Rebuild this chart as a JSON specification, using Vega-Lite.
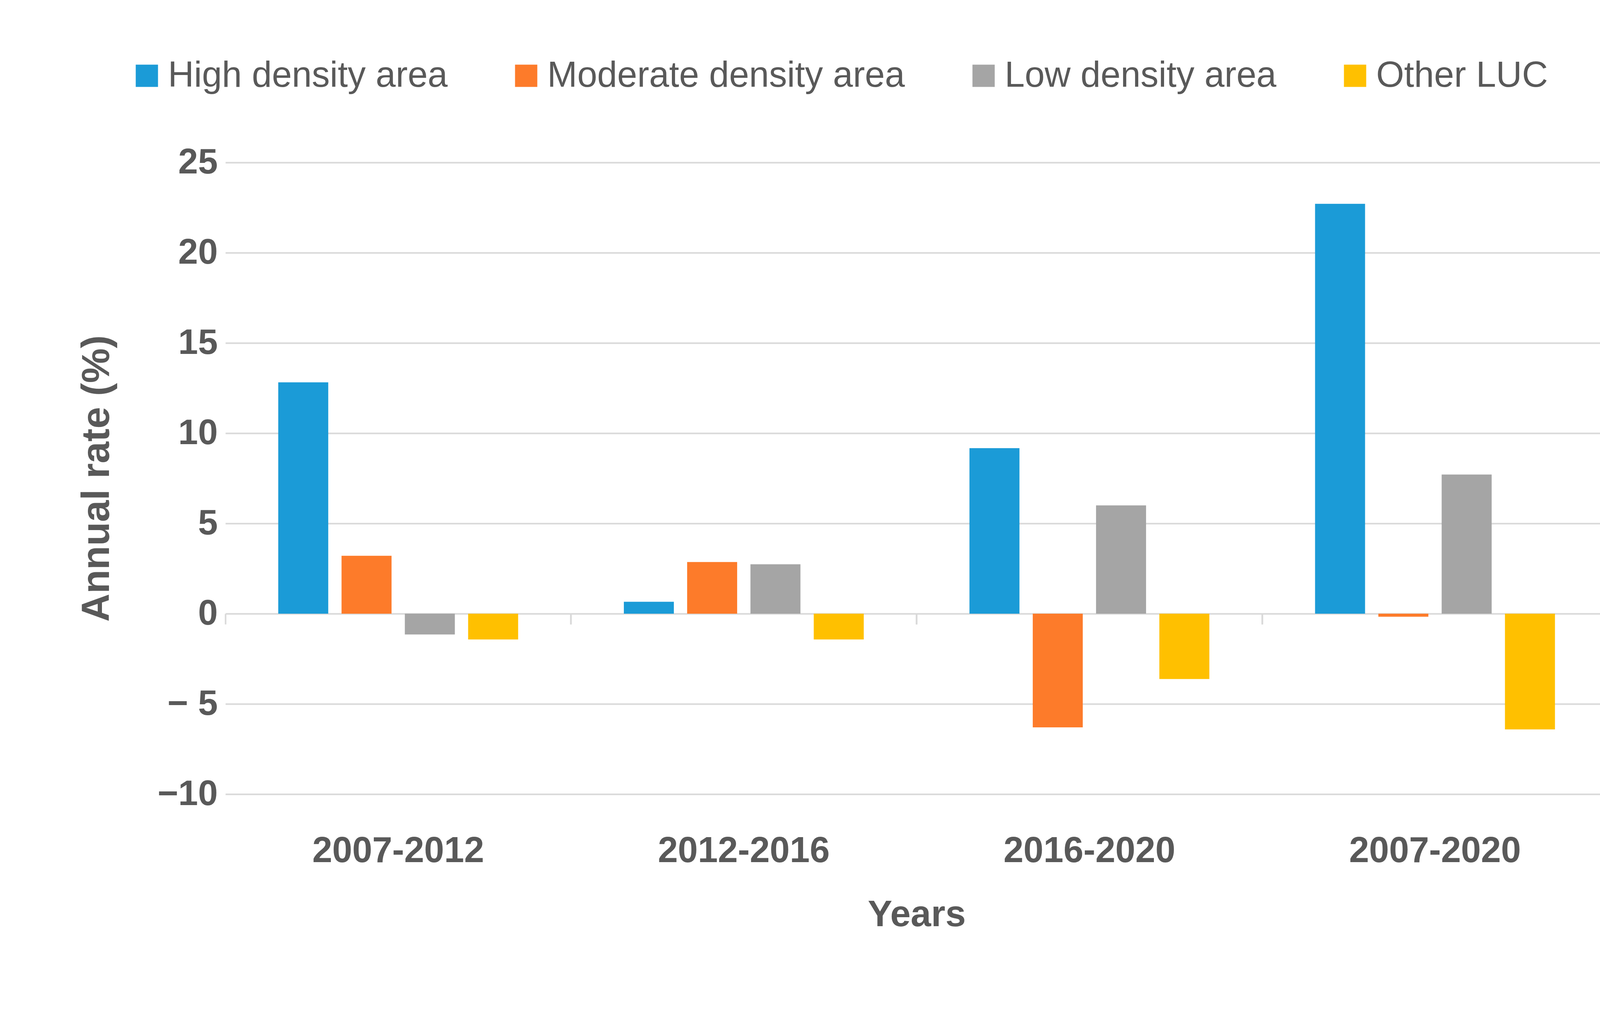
{
  "$schema": "https://vega.github.io/schema/vega-lite/v6.json",
  "autosize": "none",
  "width": 3539,
  "height": 1617,
  "padding": {"left": 577, "top": 416, "right": 152, "bottom": 550},
  "background": "white",
  "config": {
    "font": "Liberation Sans",
    "view": {"stroke": null}
  },
  "data": {
    "values": [
      {"period": "2007-2012", "series": "High density area", "rate": 12.82},
      {"period": "2007-2012", "series": "Moderate density area", "rate": 3.21},
      {"period": "2007-2012", "series": "Low density area", "rate": -1.15},
      {"period": "2007-2012", "series": "Other LUC", "rate": -1.43},
      {"period": "2012-2016", "series": "High density area", "rate": 0.66},
      {"period": "2012-2016", "series": "Moderate density area", "rate": 2.86},
      {"period": "2012-2016", "series": "Low density area", "rate": 2.74},
      {"period": "2012-2016", "series": "Other LUC", "rate": -1.43},
      {"period": "2016-2020", "series": "High density area", "rate": 9.17},
      {"period": "2016-2020", "series": "Moderate density area", "rate": -6.3},
      {"period": "2016-2020", "series": "Low density area", "rate": 6.0},
      {"period": "2016-2020", "series": "Other LUC", "rate": -3.62},
      {"period": "2007-2020", "series": "High density area", "rate": 22.71},
      {"period": "2007-2020", "series": "Moderate density area", "rate": -0.17},
      {"period": "2007-2020", "series": "Low density area", "rate": 7.71},
      {"period": "2007-2020", "series": "Other LUC", "rate": -6.41}
    ]
  },
  "resolve": {"axis": {"x": "independent"}},
  "layer": [
    {
      "mark": {"type": "bar"},
      "encoding": {
        "x": {
          "field": "period",
          "type": "nominal",
          "sort": ["2007-2012", "2012-2016", "2016-2020", "2007-2020"],
          "scale": {"paddingInner": 0, "paddingOuter": 0},
          "axis": {
            "orient": "bottom",
            "title": "Years",
            "labelAngle": 0,
            "domain": false,
            "ticks": false,
            "labelLimit": 2000,
            "labelFont": "Liberation Sans",
            "labelFontSize": 92,
            "labelFontWeight": "bold",
            "labelColor": "#595959",
            "labelPadding": 100,
            "titleFont": "Liberation Sans",
            "titleFontSize": 94,
            "titleFontWeight": "bold",
            "titleColor": "#595959",
            "titlePadding": 72
          }
        },
        "xOffset": {
          "field": "series",
          "type": "nominal",
          "sort": ["High density area", "Moderate density area", "Low density area", "Other LUC"],
          "scale": {"paddingInner": 0.21, "paddingOuter": 0.835}
        },
        "y": {
          "field": "rate",
          "type": "quantitative",
          "scale": {"domain": [-10, 25], "nice": false, "zero": false},
          "axis": {
            "title": "Annual rate (%)",
            "values": [-10, -5, 0, 5, 10, 15, 20, 25],
            "labelExpr": "datum.value == -5 ? '\u2212 5' : datum.value == -10 ? '\u221210' : datum.label",
            "domain": false,
            "ticks": false,
            "grid": true,
            "gridColor": "#d9d9d9",
            "gridWidth": 4,
            "labelFont": "Liberation Sans",
            "labelFontSize": 91,
            "labelFontWeight": "bold",
            "labelColor": "#595959",
            "labelPadding": 20,
            "titleFont": "Liberation Sans",
            "titleFontSize": 100,
            "titleFontWeight": "bold",
            "titleColor": "#595959",
            "titlePadding": 103
          }
        },
        "color": {
          "field": "series",
          "type": "nominal",
          "sort": ["High density area", "Moderate density area", "Low density area", "Other LUC"],
          "scale": {
            "domain": ["High density area", "Moderate density area", "Low density area", "Other LUC"],
            "range": ["#1b9bd7", "#fd7b2a", "#a5a5a5", "#ffc000"]
          },
          "legend": {
            "title": null,
            "orient": "none",
            "direction": "horizontal",
            "legendX": -247,
            "legendY": -268,
            "symbolType": "square",
            "symbolSize": 3250,
            "symbolStrokeWidth": 0,
            "labelFont": "Liberation Sans",
            "labelFontSize": 92,
            "labelColor": "#595959",
            "labelOffset": 8,
            "columnPadding": 155,
            "labelLimit": 2000
          }
        }
      }
    },
    {
      "mark": {"type": "point", "opacity": 0},
      "encoding": {
        "x": {
          "field": "period",
          "type": "nominal",
          "sort": ["2007-2012", "2012-2016", "2016-2020", "2007-2020"],
          "axis": {
            "orient": "bottom",
            "offset": -462,
            "title": null,
            "labels": false,
            "domain": false,
            "ticks": true,
            "bandPosition": 1,
            "tickColor": "#d9d9d9",
            "tickWidth": 4,
            "tickSize": 27
          }
        },
        "y": {"datum": 0, "type": "quantitative"}
      }
    },
    {
      "mark": {"type": "point", "opacity": 0},
      "encoding": {
        "x": {
          "field": "period",
          "type": "nominal",
          "sort": ["2007-2012", "2012-2016", "2016-2020", "2007-2020"],
          "axis": {
            "orient": "bottom",
            "offset": -462,
            "title": null,
            "labels": false,
            "domain": false,
            "ticks": true,
            "bandPosition": 0,
            "tickColor": "#d9d9d9",
            "tickWidth": 4,
            "tickSize": 27
          }
        },
        "y": {"datum": 0, "type": "quantitative"}
      }
    }
  ]
}
